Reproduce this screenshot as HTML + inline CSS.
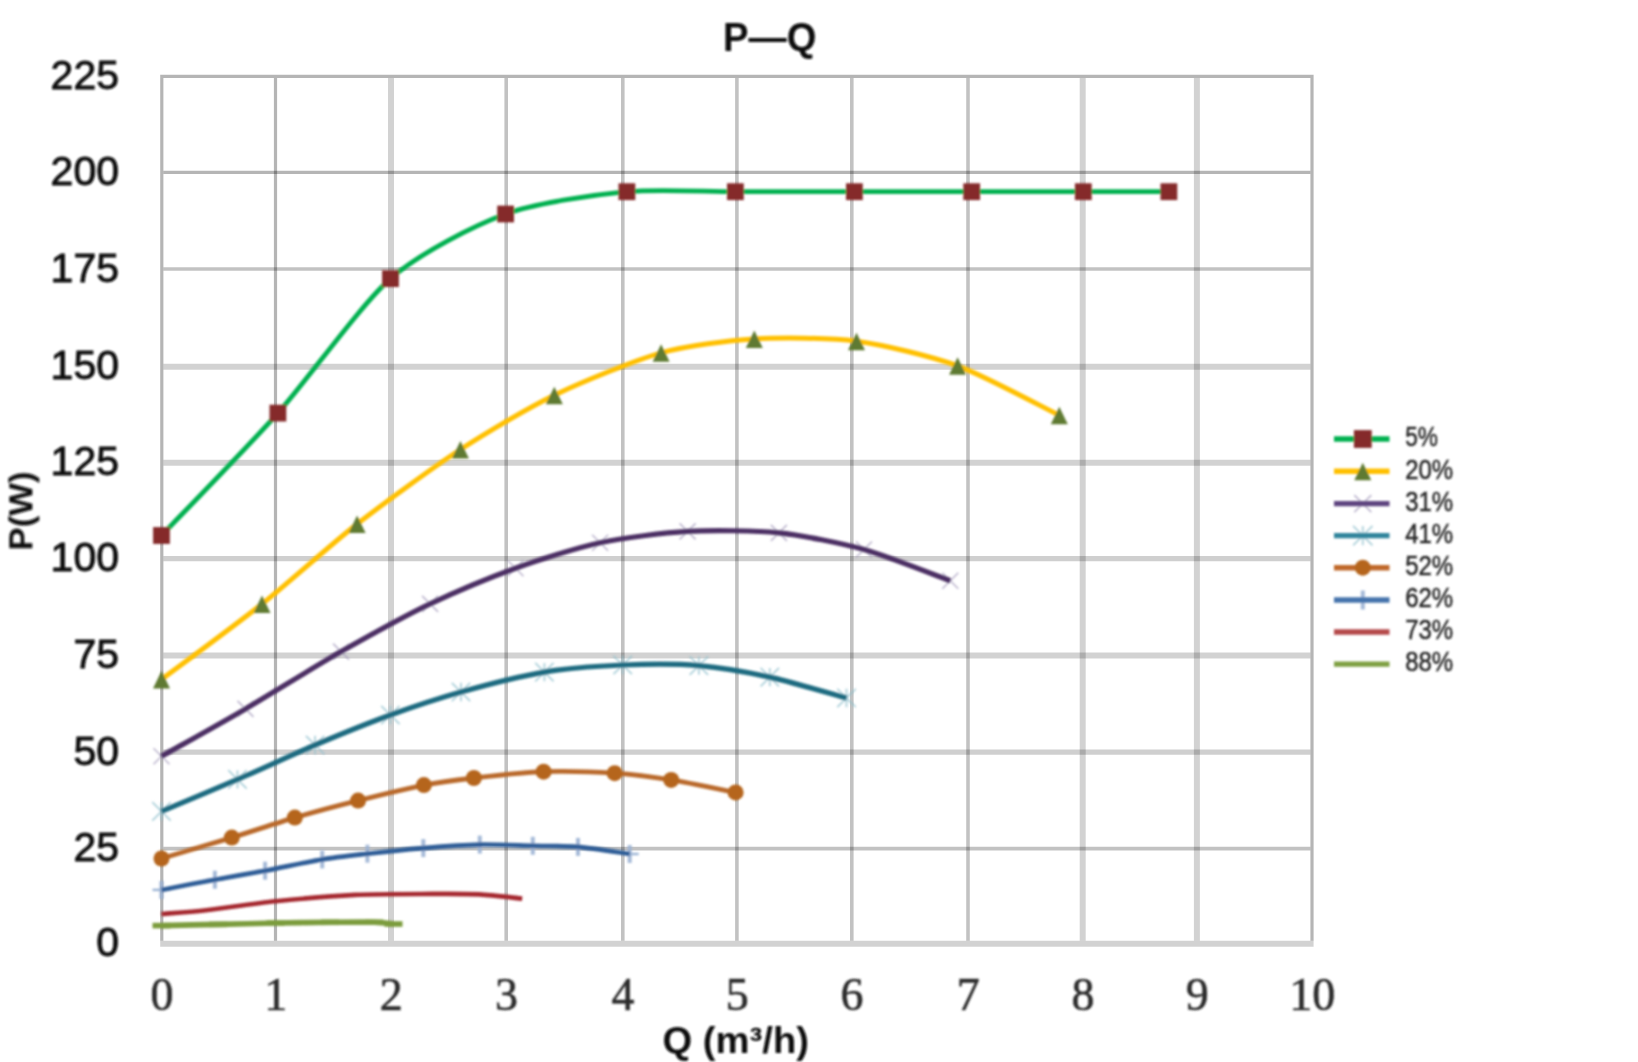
<!DOCTYPE html>
<html lang="en"><head><meta charset="utf-8"><title>P-Q</title>
<style>
html,body{margin:0;padding:0;background:#ffffff;}
body{width:1638px;height:1062px;overflow:hidden;font-family:"Liberation Sans",sans-serif;}
svg{display:block;}
.ylab{font-family:"Liberation Sans",sans-serif;font-size:41px;fill:#0c0c0c;stroke:#0c0c0c;stroke-width:0.9px;text-anchor:end;}
.xlab{font-family:"Liberation Serif",serif;font-size:46px;fill:#2b2b2b;stroke:#2b2b2b;stroke-width:0.6px;text-anchor:middle;}
.ttl{font-family:"Liberation Sans",sans-serif;font-weight:bold;fill:#0e0e0e;}
.leg{font-family:"Liberation Sans",sans-serif;font-size:27.5px;fill:#262626;stroke:#262626;stroke-width:0.5px;}
</style></head><body>
<svg id="chart" width="1638" height="1062" viewBox="0 0 1638 1062">
<defs><filter id="soft" filterUnits="userSpaceOnUse" x="0" y="0" width="1638" height="1062"><feGaussianBlur stdDeviation="0.8"/></filter></defs>
<rect x="0" y="0" width="1638" height="1062" fill="#ffffff"/>
<g id="grid" fill="none">
<line x1="160.2" y1="76.4" x2="1313.6" y2="76.4" stroke="#000" stroke-opacity="0.29" stroke-width="3.2"/>
<line x1="163.4" y1="172.3" x2="1310.4" y2="172.3" stroke="#000" stroke-opacity="0.29" stroke-width="3.2"/>
<line x1="163.4" y1="269" x2="1310.4" y2="269" stroke="#000" stroke-opacity="0.24" stroke-width="3.6"/>
<line x1="163.4" y1="366.7" x2="1310.4" y2="366.7" stroke="#000" stroke-opacity="0.175" stroke-width="6.0"/>
<line x1="163.4" y1="462.7" x2="1310.4" y2="462.7" stroke="#000" stroke-opacity="0.175" stroke-width="6.0"/>
<line x1="163.4" y1="558.6" x2="1310.4" y2="558.6" stroke="#000" stroke-opacity="0.19" stroke-width="5.2"/>
<line x1="163.4" y1="655.6" x2="1310.4" y2="655.6" stroke="#000" stroke-opacity="0.175" stroke-width="6.0"/>
<line x1="163.4" y1="752.2" x2="1310.4" y2="752.2" stroke="#000" stroke-opacity="0.19" stroke-width="5.2"/>
<line x1="163.4" y1="848.6" x2="1310.4" y2="848.6" stroke="#000" stroke-opacity="0.24" stroke-width="3.6"/>
<line x1="160.2" y1="943.8" x2="1313.6" y2="943.8" stroke="#000" stroke-opacity="0.175" stroke-width="6.0"/>
<line x1="161.8" y1="78" x2="161.8" y2="940.8" stroke="#000" stroke-opacity="0.29" stroke-width="3.2"/>
<line x1="275.5" y1="78" x2="275.5" y2="940.8" stroke="#000" stroke-opacity="0.29" stroke-width="3.2"/>
<line x1="391" y1="78" x2="391" y2="940.8" stroke="#000" stroke-opacity="0.175" stroke-width="6.0"/>
<line x1="506.2" y1="78" x2="506.2" y2="940.8" stroke="#000" stroke-opacity="0.24" stroke-width="3.6"/>
<line x1="622.8" y1="78" x2="622.8" y2="940.8" stroke="#000" stroke-opacity="0.24" stroke-width="3.6"/>
<line x1="736.9" y1="78" x2="736.9" y2="940.8" stroke="#000" stroke-opacity="0.24" stroke-width="3.6"/>
<line x1="851.8" y1="78" x2="851.8" y2="940.8" stroke="#000" stroke-opacity="0.24" stroke-width="3.6"/>
<line x1="968" y1="78" x2="968" y2="940.8" stroke="#000" stroke-opacity="0.24" stroke-width="3.6"/>
<line x1="1082.7" y1="78" x2="1082.7" y2="940.8" stroke="#000" stroke-opacity="0.175" stroke-width="6.0"/>
<line x1="1196.9" y1="78" x2="1196.9" y2="940.8" stroke="#000" stroke-opacity="0.175" stroke-width="6.0"/>
<line x1="1312" y1="78" x2="1312" y2="940.8" stroke="#000" stroke-opacity="0.29" stroke-width="3.2"/>
</g>
<g id="ink" filter="url(#soft)">
<g id="series">
<path d="M161.5 535.5C176.6 519.6 248.1 446.5 277.9 413.1C307.7 379.7 360.9 304.5 390.5 278.6C420.1 252.7 474.9 225.3 505.6 214C536.3 202.7 597 194.6 626.9 191.7C656.8 188.8 705.8 191.7 735.4 191.7C765 191.7 823.7 191.7 854.4 191.7C885.1 191.7 941.9 191.7 971.7 191.7C1001.5 191.7 1057.7 191.7 1083.3 191.7C1108.9 191.7 1157.8 191.7 1168.9 191.7" fill="none" stroke="#00B050" stroke-width="4.8" stroke-linecap="butt" stroke-linejoin="round"/>
<rect x="153.1" y="527.1" width="16.8" height="16.8" fill="#852B2B"/>
<rect x="269.5" y="404.7" width="16.8" height="16.8" fill="#852B2B"/>
<rect x="382.1" y="270.2" width="16.8" height="16.8" fill="#852B2B"/>
<rect x="497.2" y="205.6" width="16.8" height="16.8" fill="#852B2B"/>
<rect x="618.5" y="183.3" width="16.8" height="16.8" fill="#852B2B"/>
<rect x="727" y="183.3" width="16.8" height="16.8" fill="#852B2B"/>
<rect x="846" y="183.3" width="16.8" height="16.8" fill="#852B2B"/>
<rect x="963.3" y="183.3" width="16.8" height="16.8" fill="#852B2B"/>
<rect x="1074.9" y="183.3" width="16.8" height="16.8" fill="#852B2B"/>
<rect x="1160.5" y="183.3" width="16.8" height="16.8" fill="#852B2B"/>
<path d="M161.5 679.5C174.6 669.7 236.6 624.2 262 604C287.4 583.8 331.3 544.1 357.1 524C382.9 503.9 434.8 466.2 460.4 449.5C486 432.8 528.2 407.8 554.3 395.2C580.4 382.6 635.1 360.1 661.1 352.8C687.1 345.5 728.9 340.5 754.3 339C779.7 337.5 830.1 337.7 856.5 341.2C882.9 344.7 931.2 356.2 957.6 365.8C984 375.4 1046.1 408.9 1059.3 415.3" fill="none" stroke="#FFC000" stroke-width="5.0" stroke-linecap="butt" stroke-linejoin="round"/>
<path d="M161.5 671 L170 688.5 L153 688.5 Z" fill="#5F7A30"/>
<path d="M262 595.5 L270.5 613 L253.5 613 Z" fill="#5F7A30"/>
<path d="M357.1 515.5 L365.6 533 L348.6 533 Z" fill="#5F7A30"/>
<path d="M460.4 441 L468.9 458.5 L451.9 458.5 Z" fill="#5F7A30"/>
<path d="M554.3 386.7 L562.8 404.2 L545.8 404.2 Z" fill="#5F7A30"/>
<path d="M661.1 344.3 L669.6 361.8 L652.6 361.8 Z" fill="#5F7A30"/>
<path d="M754.3 330.5 L762.8 348 L745.8 348 Z" fill="#5F7A30"/>
<path d="M856.5 332.7 L865 350.2 L848 350.2 Z" fill="#5F7A30"/>
<path d="M957.6 357.3 L966.1 374.8 L949.1 374.8 Z" fill="#5F7A30"/>
<path d="M1059.3 406.8 L1067.8 424.3 L1050.8 424.3 Z" fill="#5F7A30"/>
<path d="M153.5 748.3 L169.5 764.3 M153.5 764.3 L169.5 748.3" stroke="#A79DBE" stroke-width="1.6" stroke-opacity="0.75" fill="none"/>
<path d="M237.5 700.9 L253.5 716.9 M237.5 716.9 L253.5 700.9" stroke="#A79DBE" stroke-width="1.6" stroke-opacity="0.75" fill="none"/>
<path d="M333.1 643.6 L349.1 659.6 M333.1 659.6 L349.1 643.6" stroke="#A79DBE" stroke-width="1.6" stroke-opacity="0.75" fill="none"/>
<path d="M422.1 595.9 L438.1 611.9 M422.1 611.9 L438.1 595.9" stroke="#A79DBE" stroke-width="1.6" stroke-opacity="0.75" fill="none"/>
<path d="M507.5 560.2 L523.5 576.2 M507.5 576.2 L523.5 560.2" stroke="#A79DBE" stroke-width="1.6" stroke-opacity="0.75" fill="none"/>
<path d="M592.1 534.7 L608.1 550.7 M592.1 550.7 L608.1 534.7" stroke="#A79DBE" stroke-width="1.6" stroke-opacity="0.75" fill="none"/>
<path d="M679.6 523.4 L695.6 539.4 M679.6 539.4 L695.6 523.4" stroke="#A79DBE" stroke-width="1.6" stroke-opacity="0.75" fill="none"/>
<path d="M770.9 524.9 L786.9 540.9 M770.9 540.9 L786.9 524.9" stroke="#A79DBE" stroke-width="1.6" stroke-opacity="0.75" fill="none"/>
<path d="M856 541.5 L872 557.5 M856 557.5 L872 541.5" stroke="#A79DBE" stroke-width="1.6" stroke-opacity="0.75" fill="none"/>
<path d="M942.3 572.8 L958.3 588.8 M942.3 588.8 L958.3 572.8" stroke="#A79DBE" stroke-width="1.6" stroke-opacity="0.75" fill="none"/>
<path d="M161.5 756.3C172.4 750.1 222.2 722.5 245.5 708.9C268.8 695.3 317.1 665.2 341.1 651.6C365.1 638 407.4 614.7 430.1 603.9C452.8 593.1 493.4 576.2 515.5 568.2C537.6 560.2 577.7 547.5 600.1 542.7C622.5 537.9 664.4 532.7 687.6 531.4C710.8 530.1 756 530.5 778.9 532.9C801.8 535.3 841.7 543.3 864 549.5C886.3 555.7 939.1 576.7 950.3 580.8" fill="none" stroke="#4B2F63" stroke-width="5.2" stroke-linecap="butt" stroke-linejoin="round"/>
<path d="M152.3 802.2 L170.7 820.6 M152.3 820.6 L170.7 802.2 M161.5 802.2 L161.5 820.6" stroke="#93C2CF" stroke-width="1.8" stroke-opacity="0.75" fill="none"/>
<path d="M228.3 770.2 L246.7 788.6 M228.3 788.6 L246.7 770.2 M237.5 770.2 L237.5 788.6" stroke="#93C2CF" stroke-width="1.8" stroke-opacity="0.75" fill="none"/>
<path d="M305.9 735.8 L324.3 754.2 M305.9 754.2 L324.3 735.8 M315.1 735.8 L315.1 754.2" stroke="#93C2CF" stroke-width="1.8" stroke-opacity="0.75" fill="none"/>
<path d="M381.2 705.8 L399.6 724.2 M381.2 724.2 L399.6 705.8 M390.4 705.8 L390.4 724.2" stroke="#93C2CF" stroke-width="1.8" stroke-opacity="0.75" fill="none"/>
<path d="M451.8 682.8 L470.2 701.2 M451.8 701.2 L470.2 682.8 M461 682.8 L461 701.2" stroke="#93C2CF" stroke-width="1.8" stroke-opacity="0.75" fill="none"/>
<path d="M535.2 662.9 L553.6 681.3 M535.2 681.3 L553.6 662.9 M544.4 662.9 L544.4 681.3" stroke="#93C2CF" stroke-width="1.8" stroke-opacity="0.75" fill="none"/>
<path d="M613.5 655.8 L631.9 674.2 M613.5 674.2 L631.9 655.8 M622.7 655.8 L622.7 674.2" stroke="#93C2CF" stroke-width="1.8" stroke-opacity="0.75" fill="none"/>
<path d="M689.7 656.4 L708.1 674.8 M689.7 674.8 L708.1 656.4 M698.9 656.4 L698.9 674.8" stroke="#93C2CF" stroke-width="1.8" stroke-opacity="0.75" fill="none"/>
<path d="M760.6 667.9 L779 686.3 M760.6 686.3 L779 667.9 M769.8 667.9 L769.8 686.3" stroke="#93C2CF" stroke-width="1.8" stroke-opacity="0.75" fill="none"/>
<path d="M837.3 688.8 L855.7 707.2 M837.3 707.2 L855.7 688.8 M846.5 688.8 L846.5 707.2" stroke="#93C2CF" stroke-width="1.8" stroke-opacity="0.75" fill="none"/>
<path d="M161.5 811.4C171.4 807.2 217.5 788 237.5 779.4C257.5 770.8 295.2 753.4 315.1 745C335 736.6 371.4 721.9 390.4 715C409.4 708.1 441 697.6 461 692C481 686.4 523.4 675.6 544.4 672.1C565.4 668.6 602.6 665.8 622.7 665C642.8 664.2 679.8 664 698.9 665.6C718 667.2 750.6 672.9 769.8 677.1C789 681.3 836.5 695.3 846.5 698" fill="none" stroke="#1F6B80" stroke-width="5.2" stroke-linecap="butt" stroke-linejoin="round"/>
<path d="M161.5 858.5C170.6 855.8 214.5 842.9 231.8 837.6C249.1 832.3 278.4 822.4 294.8 817.6C311.2 812.8 341.3 804.8 358.1 800.6C374.9 796.4 408.8 788 423.9 785.1C439 782.2 458.3 779.7 473.9 778C489.5 776.3 525.3 772.3 543.6 771.7C561.9 771.1 598.1 772.1 614.7 773.2C631.3 774.3 655.5 777.4 671.2 779.9C686.9 782.4 727.2 790.8 735.6 792.4" fill="none" stroke="#B9692A" stroke-width="4.8" stroke-linecap="butt" stroke-linejoin="round"/>
<circle cx="161.5" cy="858.5" r="8" fill="#B5651F"/>
<circle cx="231.8" cy="837.6" r="8" fill="#B5651F"/>
<circle cx="294.8" cy="817.6" r="8" fill="#B5651F"/>
<circle cx="358.1" cy="800.6" r="8" fill="#B5651F"/>
<circle cx="423.9" cy="785.1" r="8" fill="#B5651F"/>
<circle cx="473.9" cy="778" r="8" fill="#B5651F"/>
<circle cx="543.6" cy="771.7" r="8" fill="#B5651F"/>
<circle cx="614.7" cy="773.2" r="8" fill="#B5651F"/>
<circle cx="671.2" cy="779.9" r="8" fill="#B5651F"/>
<circle cx="735.6" cy="792.4" r="8" fill="#B5651F"/>
<path d="M152.5 889.9 L170.5 889.9" stroke="#9BB3D4" stroke-width="2.4" fill="none"/><path d="M161.5 880.9 L161.5 898.9" stroke="#9BB3D4" stroke-width="4" stroke-opacity="0.9" fill="none"/>
<path d="M205.9 879.7 L223.9 879.7" stroke="#9BB3D4" stroke-width="2.4" fill="none"/><path d="M214.9 870.7 L214.9 888.7" stroke="#9BB3D4" stroke-width="4" stroke-opacity="0.9" fill="none"/>
<path d="M256.1 870.7 L274.1 870.7" stroke="#9BB3D4" stroke-width="2.4" fill="none"/><path d="M265.1 861.7 L265.1 879.7" stroke="#9BB3D4" stroke-width="4" stroke-opacity="0.9" fill="none"/>
<path d="M313.2 859.4 L331.2 859.4" stroke="#9BB3D4" stroke-width="2.4" fill="none"/><path d="M322.2 850.4 L322.2 868.4" stroke="#9BB3D4" stroke-width="4" stroke-opacity="0.9" fill="none"/>
<path d="M358.4 853.7 L376.4 853.7" stroke="#9BB3D4" stroke-width="2.4" fill="none"/><path d="M367.4 844.7 L367.4 862.7" stroke="#9BB3D4" stroke-width="4" stroke-opacity="0.9" fill="none"/>
<path d="M414.3 848.1 L432.3 848.1" stroke="#9BB3D4" stroke-width="2.4" fill="none"/><path d="M423.3 839.1 L423.3 857.1" stroke="#9BB3D4" stroke-width="4" stroke-opacity="0.9" fill="none"/>
<path d="M470.8 844.6 L488.8 844.6" stroke="#9BB3D4" stroke-width="2.4" fill="none"/><path d="M479.8 835.6 L479.8 853.6" stroke="#9BB3D4" stroke-width="4" stroke-opacity="0.9" fill="none"/>
<path d="M523.8 845.8 L541.8 845.8" stroke="#9BB3D4" stroke-width="2.4" fill="none"/><path d="M532.8 836.8 L532.8 854.8" stroke="#9BB3D4" stroke-width="4" stroke-opacity="0.9" fill="none"/>
<path d="M569 846.9 L587 846.9" stroke="#9BB3D4" stroke-width="2.4" fill="none"/><path d="M578 837.9 L578 855.9" stroke="#9BB3D4" stroke-width="4" stroke-opacity="0.9" fill="none"/>
<path d="M620.7 854 L638.7 854" stroke="#9BB3D4" stroke-width="2.4" fill="none"/><path d="M629.7 845 L629.7 863" stroke="#9BB3D4" stroke-width="4" stroke-opacity="0.9" fill="none"/>
<path d="M161.5 889.9C168.4 888.6 201.4 882.2 214.9 879.7C228.4 877.2 251.2 873.3 265.1 870.7C279 868.1 308.9 861.6 322.2 859.4C335.5 857.2 354.3 855.2 367.4 853.7C380.5 852.2 408.7 849.3 423.3 848.1C437.9 846.9 465.6 844.9 479.8 844.6C494 844.3 520 845.5 532.8 845.8C545.6 846.1 565.4 845.8 578 846.9C590.6 848 623 853.1 629.7 854" fill="none" stroke="#2F5D97" stroke-width="4.6" stroke-linecap="butt" stroke-linejoin="round"/>
<path d="M161.5 914C167.3 913.5 191.2 912 206 910.3C220.8 908.6 256.1 903.3 275.5 901.3C294.9 899.3 334.5 895.9 355 894.9C375.5 893.9 416.8 894 433 893.9C449.2 893.8 467.8 893.8 479.4 894.4C491 895 516.6 898.1 522.2 898.6" fill="none" stroke="#A5282F" stroke-width="4.6" stroke-linecap="butt" stroke-linejoin="round"/>
<path d="M161.5 925.6C168.8 925.4 203.2 924.7 218 924.4C232.8 924.1 260.9 923.3 275.5 923C290.1 922.7 317.1 922.4 330 922.3C342.9 922.2 366.1 922 374.4 922.2C382.7 922.4 391 923.8 393.5 924" fill="none" stroke="#7C9C3C" stroke-width="5.6" stroke-linecap="butt" stroke-linejoin="round"/>
<path d="M152.5 925.6 L170.5 925.6" stroke="#7C9C3C" stroke-width="5.6" fill="none"/>
<path d="M209 924.4 L227 924.4" stroke="#7C9C3C" stroke-width="5.6" fill="none"/>
<path d="M266.5 923 L284.5 923" stroke="#7C9C3C" stroke-width="5.6" fill="none"/>
<path d="M321 922.3 L339 922.3" stroke="#7C9C3C" stroke-width="5.6" fill="none"/>
<path d="M365.4 922.2 L383.4 922.2" stroke="#7C9C3C" stroke-width="5.6" fill="none"/>
<path d="M384.5 924 L402.5 924" stroke="#7C9C3C" stroke-width="5.6" fill="none"/>
</g>
<g id="ylabels">
<text class="ylab" x="119" y="88.9">225</text>
<text class="ylab" x="119" y="184.8">200</text>
<text class="ylab" x="119" y="281.5">175</text>
<text class="ylab" x="119" y="379.2">150</text>
<text class="ylab" x="119" y="475.2">125</text>
<text class="ylab" x="119" y="571.1">100</text>
<text class="ylab" x="119" y="668.1">75</text>
<text class="ylab" x="119" y="764.7">50</text>
<text class="ylab" x="119" y="861.1">25</text>
<text class="ylab" x="119" y="956.3">0</text>
</g>
<g id="xlabels">
<text class="xlab" x="162.1" y="1009.5">0</text>
<text class="xlab" x="275.8" y="1009.5">1</text>
<text class="xlab" x="391.3" y="1009.5">2</text>
<text class="xlab" x="506.5" y="1009.5">3</text>
<text class="xlab" x="623.1" y="1009.5">4</text>
<text class="xlab" x="737.2" y="1009.5">5</text>
<text class="xlab" x="852.1" y="1009.5">6</text>
<text class="xlab" x="968.3" y="1009.5">7</text>
<text class="xlab" x="1083" y="1009.5">8</text>
<text class="xlab" x="1197.2" y="1009.5">9</text>
<text class="xlab" x="1312.3" y="1009.5">10</text>
</g>
<text class="ttl" x="723" y="50.6" font-size="40" textLength="93.5" lengthAdjust="spacingAndGlyphs">P&#8212;Q</text>
<text class="ttl" x="662.5" y="1053" font-size="37" textLength="146.5" lengthAdjust="spacingAndGlyphs">Q (m&#179;/h)</text>
<text class="ttl" transform="translate(32.3 550.5) rotate(-90)" x="0" y="0" font-size="33" textLength="79" lengthAdjust="spacingAndGlyphs">P(W)</text>
<g id="legend">
<line x1="1334" y1="439" x2="1389.5" y2="439" stroke="#00B050" stroke-width="5.4"/>
<rect x="1353.9" y="430.1" width="17.8" height="17.8" fill="#852B2B"/>
<text class="leg" x="1405.2" y="446.3" textLength="32.8" lengthAdjust="spacingAndGlyphs">5%</text>
<line x1="1334" y1="471.2" x2="1389.5" y2="471.2" stroke="#FFC000" stroke-width="5.4"/>
<path d="M1362.8 462.7 L1371.3 480.2 L1354.3 480.2 Z" fill="#5F7A30"/>
<text class="leg" x="1405.2" y="478.5" textLength="48.0" lengthAdjust="spacingAndGlyphs">20%</text>
<path d="M1354.3 495.1 L1371.3 512.1 M1354.3 512.1 L1371.3 495.1" stroke="#A79DBE" stroke-width="1.6" stroke-opacity="0.75" fill="none"/>
<line x1="1334" y1="503.6" x2="1389.5" y2="503.6" stroke="#5F4480" stroke-width="5.4"/>
<text class="leg" x="1405.2" y="510.9" textLength="48.0" lengthAdjust="spacingAndGlyphs">31%</text>
<path d="M1353.1 525.9 L1372.5 545.3 M1353.1 545.3 L1372.5 525.9 M1362.8 525.9 L1362.8 545.3" stroke="#93C2CF" stroke-width="1.8" stroke-opacity="0.75" fill="none"/>
<line x1="1334" y1="535.6" x2="1389.5" y2="535.6" stroke="#31859C" stroke-width="5.4"/>
<text class="leg" x="1405.2" y="542.9" textLength="48.0" lengthAdjust="spacingAndGlyphs">41%</text>
<line x1="1334" y1="567.7" x2="1389.5" y2="567.7" stroke="#C0692A" stroke-width="5.4"/>
<circle cx="1362.8" cy="567.7" r="8" fill="#B5651F"/>
<text class="leg" x="1405.2" y="575" textLength="48.0" lengthAdjust="spacingAndGlyphs">52%</text>
<path d="M1353.3 600 L1372.3 600" stroke="#9BB3D4" stroke-width="2.4" fill="none"/><path d="M1362.8 590.5 L1362.8 609.5" stroke="#9BB3D4" stroke-width="4" stroke-opacity="0.9" fill="none"/>
<line x1="1334" y1="600" x2="1389.5" y2="600" stroke="#4473AC" stroke-width="5.4"/>
<text class="leg" x="1405.2" y="607.3" textLength="48.0" lengthAdjust="spacingAndGlyphs">62%</text>
<line x1="1334" y1="632" x2="1389.5" y2="632" stroke="#B5484A" stroke-width="5.4"/>
<text class="leg" x="1405.2" y="639.3" textLength="48.0" lengthAdjust="spacingAndGlyphs">73%</text>
<line x1="1334" y1="664.1" x2="1389.5" y2="664.1" stroke="#7FA043" stroke-width="5.4"/>
<text class="leg" x="1405.2" y="671.4" textLength="48.0" lengthAdjust="spacingAndGlyphs">88%</text>
</g>
</g>
</svg>
</body></html>
